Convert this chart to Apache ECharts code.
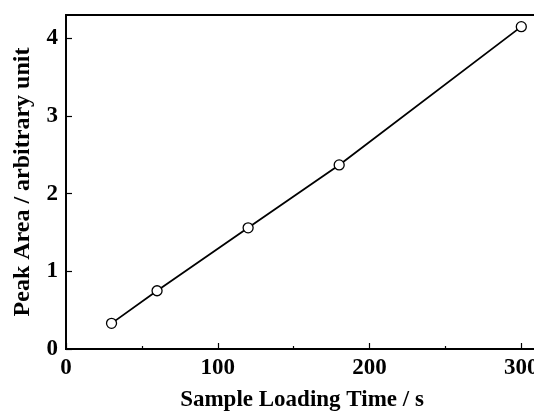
<!DOCTYPE html>
<html>
<head>
<meta charset="utf-8">
<script src="https://cdn.jsdelivr.net/npm/echarts@6/dist/echarts.min.js"></script>
<style>
  html, body { margin: 0; padding: 0; background: #fff; }
  #chart { width: 534px; height: 413px; }
</style>
</head>
<body>
<div id="chart"></div>
<script>
// sample loading time (s) and peak area (arbitrary unit)
var loadingTime = [30, 60, 120, 180, 300];
var peakArea = [0.33, 0.75, 1.56, 2.37, 4.15];

var chartDom = document.getElementById('chart');
var myChart = echarts.init(chartDom);
var option;

var font = 'Liberation Serif';
var pts = loadingTime.map(function (t, i) { return [t, peakArea[i]]; });

option = {
    animation: false,
    grid: {
        left: 66,
        right: -4,
        top: 15,
        bottom: 64,
        outerBoundsMode: 'none',
        containLabel: false,
        show: true,
        borderColor: '#000',
        borderWidth: 1.8
    },
    xAxis: {
        type: 'value',
        min: 0,
        max: 311,
        interval: 100,
        name: 'Sample Loading Time / s',
        nameLocation: 'middle',
        nameGap: 40,
        nameMoveOverlap: false,
        nameTextStyle: { fontFamily: font, fontWeight: 'bold', fontSize: 23, color: '#000' },
        axisLine: { show: true, lineStyle: { color: '#000', width: 1.8 } },
        axisTick: { show: true, inside: true, length: 6, lineStyle: { color: '#000', width: 1.2 } },
        minorTick: { show: true, splitNumber: 2, length: 3, lineStyle: { color: '#000', width: 1.2 } },
        axisLabel: { fontFamily: font, fontWeight: 'bold', fontSize: 23, color: '#000', margin: 8, showMaxLabel: false },
        splitLine: { show: false }
    },
    yAxis: {
        type: 'value',
        min: 0,
        max: 4.3,
        interval: 1,
        name: 'Peak Area / arbitrary unit',
        nameLocation: 'middle',
        nameGap: 31,
        nameMoveOverlap: false,
        nameTextStyle: { fontFamily: font, fontWeight: 'bold', fontSize: 24, color: '#000' },
        axisLine: { show: true, lineStyle: { color: '#000', width: 1.8 } },
        axisTick: { show: true, inside: true, length: 6, lineStyle: { color: '#000', width: 1.2 } },
        axisLabel: { fontFamily: font, fontWeight: 'bold', fontSize: 23, color: '#000', margin: 8, showMaxLabel: false },
        splitLine: { show: false }
    },
    series: [
        {
            type: 'line',
            data: pts,
            symbol: 'circle',
            symbolSize: 10,
            itemStyle: { color: '#fff', borderColor: '#000', borderWidth: 1.3 },
            lineStyle: { color: '#000', width: 1.8 }
        }
    ]
};

option && myChart.setOption(option);
</script>
</body>
</html>
